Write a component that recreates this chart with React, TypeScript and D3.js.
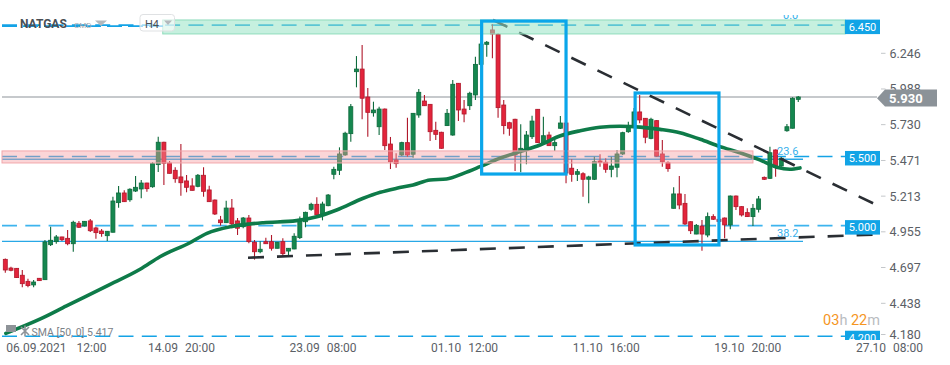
import React from 'react';
import * as d3 from 'd3';

const W = 950;
const H = 365;

// ---- candle data (4H NATGAS) ----
const opens = [4.756,4.693,4.691,4.641,4.597,4.571,4.619,4.609,4.862,4.884,4.918,4.908,4.869,5.017,4.997,5.034,4.983,4.961,4.927,4.952,5.166,5.236,5.187,5.250,5.265,5.308,5.281,5.441,5.603,5.453,5.400,5.352,5.323,5.287,5.284,5.364,5.258,5.185,5.041,5.021,5.127,5.034,4.992,5.055,4.880,4.811,4.884,4.884,4.836,4.884,4.816,4.831,4.913,5.028,5.118,5.154,5.077,5.144,5.371,5.400,5.511,5.665,6.113,6.132,5.930,5.816,5.715,5.843,5.590,5.475,5.511,5.600,5.516,5.800,5.901,5.877,5.689,5.675,5.723,5.655,6.029,5.843,5.867,5.945,6.166,6.311,6.415,6.383,5.872,5.744,5.769,5.540,5.547,5.643,5.841,5.595,5.655,5.578,5.704,5.742,5.415,5.371,5.375,5.335,5.335,5.467,5.458,5.407,5.422,5.518,5.679,5.715,5.822,5.776,5.631,5.759,5.518,5.455,5.125,5.229,5.161,5.028,4.939,4.997,4.932,5.065,5.046,5.055,5.005,5.214,5.137,5.094,5.065,5.118,5.349,5.342,5.547,5.431,5.686,5.704,5.913];
const highs = [4.763,4.703,4.694,4.679,4.616,4.607,4.622,4.896,4.992,4.932,4.920,4.968,5.036,5.034,5.034,5.048,4.992,4.975,4.961,5.209,5.286,5.255,5.270,5.359,5.330,5.310,5.460,5.643,5.606,5.467,5.422,5.590,5.366,5.342,5.373,5.422,5.289,5.188,5.070,5.180,5.193,5.055,5.062,5.077,4.896,4.887,4.913,4.932,4.882,4.908,4.838,4.945,5.065,5.101,5.166,5.205,5.173,5.229,5.426,5.566,5.679,5.879,6.226,6.306,5.995,5.896,5.860,5.846,5.641,5.523,5.607,5.780,5.815,5.988,5.945,5.880,5.751,5.678,5.843,6.053,6.032,5.908,5.968,6.221,6.327,6.335,6.456,6.391,5.908,5.751,5.772,5.733,5.684,5.795,5.843,5.788,5.679,5.631,5.793,5.750,5.482,5.409,5.386,5.361,5.498,5.516,5.487,5.498,5.547,5.679,5.751,5.851,5.945,5.779,5.780,5.762,5.619,5.465,5.277,5.359,5.229,5.031,5.012,5.041,5.094,5.082,5.060,5.058,5.217,5.217,5.140,5.125,5.156,5.214,5.355,5.571,5.550,5.494,5.735,5.928,5.937];
const lows = [4.659,4.670,4.621,4.554,4.554,4.554,4.599,4.607,4.853,4.869,4.889,4.858,4.811,4.983,4.994,4.954,4.905,4.920,4.889,4.950,5.130,5.170,5.173,5.243,5.198,5.245,5.274,5.388,5.294,5.376,5.310,5.216,5.241,5.253,5.277,5.209,5.170,5.077,5.000,5.019,4.981,4.932,4.981,4.872,4.754,4.800,4.867,4.819,4.834,4.778,4.787,4.829,4.903,4.988,5.108,5.075,5.038,5.140,5.335,5.366,5.506,5.607,6.000,5.769,5.643,5.788,5.655,5.547,5.409,5.419,5.503,5.498,5.491,5.780,5.865,5.612,5.619,5.556,5.720,5.650,5.757,5.747,5.836,5.908,6.155,6.221,6.210,5.780,5.660,5.650,5.395,5.386,5.443,5.626,5.598,5.588,5.576,5.540,5.699,5.306,5.318,5.323,5.209,5.161,5.330,5.426,5.383,5.349,5.349,5.511,5.672,5.706,5.740,5.595,5.624,5.498,5.426,5.390,5.123,5.118,5.005,4.939,4.937,4.819,4.916,5.041,5.010,4.908,4.973,5.113,5.065,5.063,4.997,5.094,5.330,5.337,5.354,5.426,5.679,5.702,5.894];
const closes = [4.679,4.677,4.624,4.580,4.566,4.592,4.602,4.882,4.894,4.918,4.898,4.869,5.024,4.988,5.031,4.963,4.949,4.942,4.959,5.178,5.236,5.173,5.263,5.277,5.308,5.267,5.448,5.603,5.451,5.378,5.339,5.310,5.277,5.255,5.364,5.248,5.173,5.084,5.021,5.127,5.012,4.981,5.055,4.884,4.811,4.829,4.869,4.836,4.880,4.797,4.836,4.923,5.034,5.096,5.154,5.077,5.156,5.221,5.407,5.518,5.668,5.860,6.132,5.921,5.819,5.836,5.843,5.578,5.462,5.448,5.600,5.511,5.812,5.964,5.867,5.679,5.660,5.559,5.812,6.022,5.836,5.807,5.957,6.166,6.313,6.326,6.386,5.853,5.723,5.704,5.511,5.559,5.655,5.756,5.600,5.650,5.578,5.600,5.742,5.380,5.371,5.390,5.335,5.352,5.462,5.458,5.407,5.431,5.518,5.672,5.715,5.822,5.764,5.639,5.769,5.503,5.462,5.412,5.229,5.149,5.012,4.963,5.002,4.939,5.065,5.046,5.030,5.005,5.214,5.137,5.077,5.065,5.125,5.193,5.335,5.527,5.422,5.487,5.715,5.921,5.930];

// SMA(50): candle position -> value
const smaIdx = [0.1,6.1,10.8,17.9,23.8,27.3,32.6,35.6,39.7,43.2,45.6,51.4,55,58.5,63.2,66.2,69.1,72,75,77.9,80.9,83.8,87.3,90.9,94.4,97.9,101.5,105,108.5,112.1,115.6,119.1,122.7,126.2,129.7,133.2,136.2,138.5,140.3];
const smaVal = [4.221,4.323,4.419,4.563,4.684,4.775,4.876,4.944,4.992,5.012,5.021,5.036,5.064,5.113,5.198,5.241,5.270,5.294,5.330,5.337,5.378,5.426,5.487,5.535,5.583,5.648,5.686,5.711,5.718,5.712,5.696,5.672,5.624,5.571,5.527,5.475,5.422,5.407,5.417];
const smaLabel = 'SMA [50, 0] 5.417';

// axes
const yTicks = [6.246, 5.988, 5.730, 5.471, 5.213, 4.955, 4.697, 4.438, 4.180];
const xTickIdx = [0, 25, 50, 75, 100, 125, 150];
const xTickDates = ['06.09.2021', '14.09', '23.09', '01.10', '11.10', '19.10', '27.10'];
const xTickTimes = ['12:00', '20:00', '08:00', '12:00', '16:00', '20:00', '08:00'];

// levels & drawings
const levelPrices = [6.450, 5.500, 5.000, 4.200];
const fibNames = ['0.0', '23.6', '38.2'];
const fibPrices = [6.450, 5.480, 4.886];
const currentPrice = 5.930;
const descTrend: [number, number][] = [[86.1, 6.487], [154.2, 5.142]];
const ascTrend: [number, number][] = [[42.85, 4.768], [154.2, 4.936]];
const boxIdx: [number, number][] = [[84.1, 99.0], [111.2, 126.0]];
const boxPrice: [number, number][] = [[6.479, 5.373], [5.959, 4.860]];
const greenZoneIdxStart = 27.8;
const greenZone = [6.487, 6.386];
const pinkZoneIdxEnd = 132;
const pinkZone = [5.540, 5.453];

const FONT = 'Roboto, "Noto Sans", sans-serif';

export default function App() {
  const x = d3.scaleLinear().domain([0, 150]).range([5.3, 854.9]);
  const y = d3.scaleLinear().domain([4.180, 6.246]).range([339.0, 53.3]);
  const fmt = d3.format('.3f');

  const LEFT = 2;
  const LABEL_X = 845;
  const PLOT_R = 880;

  const smaPts: [number, number][] = smaIdx.map((d, i) => [x(d), y(smaVal[i])]);
  const smaPath = d3.line().curve(d3.curveMonotoneX)(smaPts) || '';
  const trend = d3.line();

  const green = '#15874f';
  const greenStroke = '#0d6a3c';
  const red = '#e3243b';
  const redStroke = '#b0182b';
  const blue = '#12a4e6';
  const bw = 4;

  return (
    <div style={{ position: 'fixed', left: 0, top: 0, width: W, height: H, background: '#fff' }}>
      <svg width={W} height={H} style={{ display: 'block', fontFamily: FONT }}>
        <defs>
          <clipPath id="plot">
            <rect x={0} y={15} width={PLOT_R} height={325} />
          </clipPath>
        </defs>
        <rect width={W} height={H} fill="#fff" />

        <g clipPath="url(#plot)">
          {/* current price line */}
          <line x1={LEFT} x2={877} y1={y(currentPrice)} y2={y(currentPrice)} stroke="#8d949a" strokeWidth={1.2} />

          {/* fib solid lines */}
          {fibPrices.map((p, i) => (
            i > 0 ? <line key={'f' + i} x1={LEFT} x2={803} y1={y(p)} y2={y(p)} stroke="#29a8e6" strokeWidth={1.3} /> : null
          ))}

          {/* dashed horizontal levels */}
          {levelPrices.map((p, i) => (
            <line key={'l' + i} x1={LEFT} x2={LABEL_X} y1={y(p)} y2={y(p)} stroke={i === 2 ? '#3db4ee' : '#14a3e6'} strokeWidth={1.6} strokeDasharray="15 8.3" />
          ))}

          {/* candles */}
          {opens.map((o, i) => {
            const c = closes[i];
            const up = c >= o;
            const cx = x(i);
            const top = y(Math.max(o, c));
            const bot = y(Math.min(o, c));
            const h = Math.max(1.5, bot - top);
            return (
              <g key={'c' + i}>
                <line x1={cx} x2={cx} y1={y(highs[i])} y2={y(lows[i])} stroke={up ? greenStroke : redStroke} strokeWidth={1.1} />
                <rect x={cx - bw / 2} y={top} width={bw} height={h} fill={up ? green : red} stroke={up ? greenStroke : redStroke} strokeWidth={0.8} />
              </g>
            );
          })}

          {/* SMA */}
          <path d={smaPath} fill="none" stroke="#0e7b49" strokeWidth={3.6} strokeLinejoin="round" strokeLinecap="round" />

          {/* trend lines */}
          <path d={trend(descTrend.map(([i, p]) => [x(i), y(p)]) as any) || ''} stroke="#2a2e33" strokeWidth={2.6} strokeDasharray="16 13" fill="none" />
          <path d={trend(ascTrend.map(([i, p]) => [x(i), y(p)]) as any) || ''} stroke="#2a2e33" strokeWidth={2.6} strokeDasharray="16 13" fill="none" />

          {/* zones */}
          <rect x={x(greenZoneIdxStart)} y={y(greenZone[0])} width={LABEL_X - x(greenZoneIdxStart)} height={y(greenZone[1]) - y(greenZone[0])}
            fill="#97e3c4" fillOpacity={0.55} stroke="#8fdcbc" strokeWidth={1} />
          <rect x={LEFT} y={y(pinkZone[0])} width={x(pinkZoneIdxEnd) - LEFT} height={y(pinkZone[1]) - y(pinkZone[0])}
            fill="#f59aa0" fillOpacity={0.42} stroke="#f2a7ab" strokeWidth={1} />

          {/* blue boxes */}
          {boxIdx.map((b, i) => (
            <rect key={'b' + i} x={x(b[0])} y={y(boxPrice[i][0])} width={x(b[1]) - x(b[0])} height={y(boxPrice[i][1]) - y(boxPrice[i][0])}
              fill="none" stroke="#0aa6ea" strokeWidth={3.2} />
          ))}

          {/* fib labels */}
          {fibNames.map((n, i) => (
            <text key={'fl' + i} x={i === 0 ? 783 : 777} y={y(fibPrices[i]) - (i === 0 ? 6 : 4)} fontSize={11} fill="#38b1ec">{n}</text>
          ))}

          {/* label boxes */}
          {levelPrices.map((p, i) => (
            <g key={'lb' + i}>
              <rect x={LABEL_X} y={y(p) - 5.5} width={PLOT_R - LABEL_X} height={14.5} fill={blue} />
              <text x={(LABEL_X + PLOT_R) / 2} y={y(p) + 5.7} fontSize={11} fill="#fff" textAnchor="middle">{fmt(p)}</text>
            </g>
          ))}
        </g>

        {/* right axis */}
        {yTicks.map((t, i) => {
          const yy = Math.min(y(t), 334.5);
          return (
            <g key={'yt' + i}>
              <line x1={881} x2={885.5} y1={yy} y2={yy} stroke="#c4c7ca" strokeWidth={1} />
              <text x={889.5} y={yy + 4.5} fontSize={12.5} fill="#5b6066">{fmt(t)}</text>
            </g>
          );
        })}

        {/* current price label */}
        <path d={`M877,${y(currentPrice) + 1.3} L885,${y(currentPrice) - 7.5} L937,${y(currentPrice) - 7.5} L937,${y(currentPrice) + 9.6} L885,${y(currentPrice) + 9.6} Z`} fill="#8b9298" />
        <text x={889} y={y(currentPrice) + 6} fontSize={13} fontWeight="bold" fill="#fff">{fmt(currentPrice)}</text>

        {/* x axis labels */}
        {xTickIdx.map((ix, i) => (
          <text key={'xt' + i} x={x(ix) + 1} y={352} fontSize={12} fill="#5b6066">
            {xTickDates[i]}
            <tspan dx={i === 0 ? 10 : 7}>{xTickTimes[i]}</tspan>
          </text>
        ))}

        {/* header */}
        <line x1={LEFT} x2={163} y1={y(6.45) + 1} y2={y(6.45) + 1} stroke="#14a3e6" strokeWidth={1.6} strokeDasharray="15 6" />
        <text x={20} y={28} fontSize={12} fontWeight="bold" fill="#4a4f55">NATGAS</text>
        <text x={74} y={28} fontSize={8} fill="#a4a8ac">CMD</text>
        <path d="M95,20.5 L107,20.5 L101,26 Z" fill="#b4b8bc" />
        <rect x={140} y={14.5} width={34.5} height={16.5} rx={3} fill="#fff" fillOpacity={0.6} stroke="#dfe1e3" strokeWidth={1} />
        <text x={145} y={27.5} fontSize={11} fill="#4a4f55">H4</text>
        <path d="M164,20.5 L172,20.5 L168,25 Z" fill="#b4b8bc" />

        {/* SMA legend */}
        <rect x={6} y={325} width={10} height={7} fill="#8e9398" />
        <path d="M21,327 L29,335 M29,327 L21,335 M25,325.5 L25,336.5" stroke="#8e9398" strokeWidth={1.6} />
        <text x={31.5} y={336} fontSize={10.5} fill="#7c8187">{smaLabel}</text>

        {/* countdown */}
        <text x={880} y={325} fontSize={14.5} textAnchor="end">
          <tspan fill="#f5961f">03</tspan>
          <tspan fill="#b9bcbf">h </tspan>
          <tspan fill="#f5961f">22</tspan>
          <tspan fill="#b9bcbf">m</tspan>
        </text>
      </svg>
    </div>
  );
}
